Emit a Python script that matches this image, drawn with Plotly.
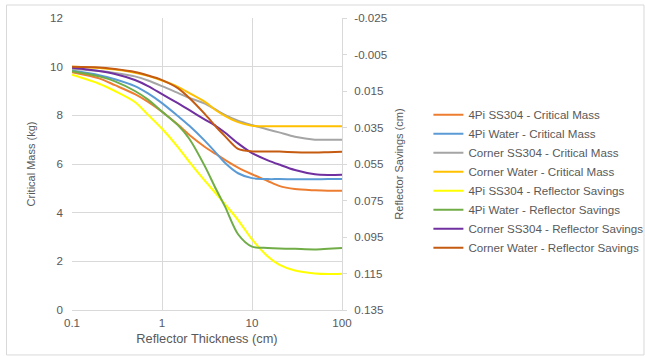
import plotly.graph_objects as go

thickness = [0.1, 0.2, 0.3, 0.5, 0.7, 1, 1.5, 2, 3, 4, 5, 7, 10, 15, 20, 30, 50, 70, 100]

# Critical mass (kg) - left axis
cm_4pi_ss304 = [9.77, 9.52, 9.24, 8.87, 8.55, 8.15, 7.62, 7.2, 6.7, 6.4, 6.17, 5.85, 5.58, 5.3, 5.1, 4.97, 4.92, 4.9, 4.9]
cm_4pi_water = [9.84, 9.65, 9.48, 9.2, 8.9, 8.5, 7.97, 7.58, 6.95, 6.45, 6.05, 5.62, 5.42, 5.38, 5.38, 5.37, 5.37, 5.38, 5.38]
cm_corner_ss304 = [9.9, 9.82, 9.74, 9.6, 9.43, 9.2, 8.92, 8.72, 8.48, 8.22, 8.02, 7.78, 7.6, 7.42, 7.3, 7.12, 7.0, 7.0, 7.0]
cm_corner_water = [10.0, 9.95, 9.88, 9.75, 9.62, 9.43, 9.17, 8.92, 8.55, 8.2, 7.98, 7.72, 7.57, 7.55, 7.55, 7.55, 7.55, 7.55, 7.55]

# Reflector savings (cm) - right axis (reversed)
rs_4pi_ss304 = [0.0061, 0.011, 0.015, 0.021, 0.0281, 0.0357, 0.0457, 0.0537, 0.0643, 0.0713, 0.077, 0.0857, 0.0963, 0.1057, 0.1102, 0.1134, 0.115, 0.1153, 0.1151]
rs_4pi_water = [0.0042, 0.007, 0.0097, 0.015, 0.0197, 0.0263, 0.0337, 0.041, 0.0563, 0.069, 0.0782, 0.0935, 0.1003, 0.101, 0.1013, 0.1015, 0.1018, 0.1014, 0.101]
rs_corner_ss304 = [0.0023, 0.0041, 0.0057, 0.009, 0.0123, 0.0167, 0.0217, 0.0254, 0.0307, 0.0343, 0.0377, 0.0437, 0.049, 0.053, 0.0553, 0.0583, 0.0606, 0.061, 0.0609]
rs_corner_water = [0.0017, 0.0021, 0.003, 0.0046, 0.0065, 0.009, 0.0134, 0.0187, 0.0277, 0.0347, 0.0397, 0.0467, 0.0481, 0.0481, 0.0482, 0.0485, 0.0487, 0.0485, 0.0483]

left_ticks = [0, 2, 4, 6, 8, 10, 12]
right_ticks = [-0.025, -0.005, 0.015, 0.035, 0.055, 0.075, 0.095, 0.115, 0.135]
right_ticktext = ["-0.025", "-0.005", "0.015", "0.035", "0.055", "0.075", "0.095", "0.115", "0.135"]
x_ticks = [0.1, 1, 10, 100]
x_ticktext = ["0.1", "1", "10", "100"]

series = [
    ("4Pi SS304 - Critical Mass", cm_4pi_ss304, "y", "#ED7D31"),
    ("4Pi Water - Critical Mass", cm_4pi_water, "y", "#5B9BD5"),
    ("Corner SS304 - Critical Mass", cm_corner_ss304, "y", "#A5A5A5"),
    ("Corner Water - Critical Mass", cm_corner_water, "y", "#FFC000"),
    ("4Pi SS304 - Reflector Savings", rs_4pi_ss304, "y2", "#FFFF00"),
    ("4Pi Water - Reflector Savings", rs_4pi_water, "y2", "#70AD47"),
    ("Corner SS304 - Reflector Savings", rs_corner_ss304, "y2", "#7030A0"),
    ("Corner Water - Reflector Savings", rs_corner_water, "y2", "#C55A11"),
]

FONT = "Liberation Sans, Arial, sans-serif"
GREY = "#595959"
GRID = "#D9D9D9"

fig = go.Figure()
for name, ys, ax, color in series:
    fig.add_trace(go.Scatter(
        x=thickness, y=ys, name=name, yaxis=ax, mode="lines",
        line=dict(color=color, width=2, shape="spline", smoothing=0.8),
    ))

fig.update_layout(
    width=645, height=356,
    margin=dict(l=72, r=303, t=18, b=46, autoexpand=False),
    paper_bgcolor="white", plot_bgcolor="white",
    font=dict(family=FONT, size=11, color=GREY),
    showlegend=True,
    legend=dict(x=1.32, y=0.718, xanchor="left", yanchor="top",
                font=dict(family=FONT, size=11.6, color=GREY),
                tracegroupgap=0, itemwidth=30, bgcolor="rgba(0,0,0,0)"),
    xaxis=dict(type="log", range=[-1, 2], tickvals=x_ticks, ticktext=x_ticktext,
               showgrid=True, gridcolor=GRID, gridwidth=1, zeroline=False,
               showline=True, linecolor=GRID, linewidth=1, ticks="",
               ticklabelstandoff=2,
               title=dict(text="Reflector Thickness (cm)", font=dict(size=12.8, color=GREY), standoff=6),
               tickfont=dict(size=11.6, color=GREY)),
    yaxis=dict(range=[0, 12], tickvals=left_ticks, showgrid=True, gridcolor=GRID,
               zeroline=False, showline=False, ticks="",
               ticklabelstandoff=8,
               title=dict(text="Critical Mass (kg)", font=dict(size=11, color=GREY), standoff=12),
               tickfont=dict(size=11.6, color=GREY)),
    yaxis2=dict(overlaying="y", side="right", range=[0.135, -0.025], autorange=False,
                tickvals=right_ticks, ticktext=right_ticktext, showgrid=False,
                zeroline=False, showline=True, linecolor=GRID, linewidth=1,
                ticks="outside", ticklen=4, tickcolor=GRID,
                ticklabelstandoff=5,
                title=dict(text="Reflector Savings (cm)", font=dict(size=11, color=GREY), standoff=9),
                tickfont=dict(size=11.6, color=GREY)),
    shapes=[dict(type="rect", xref="paper", yref="paper",
                 x0=-0.2426, x1=2.1185, y0=-0.154, y1=1.0445,
                 line=dict(color="#D9D9D9", width=1), fillcolor="rgba(0,0,0,0)", layer="below")],
)

fig.write_html("out.html", config={"displayModeBar": False},
               post_script="document.body.style.margin='0';document.body.style.overflow='hidden';")
